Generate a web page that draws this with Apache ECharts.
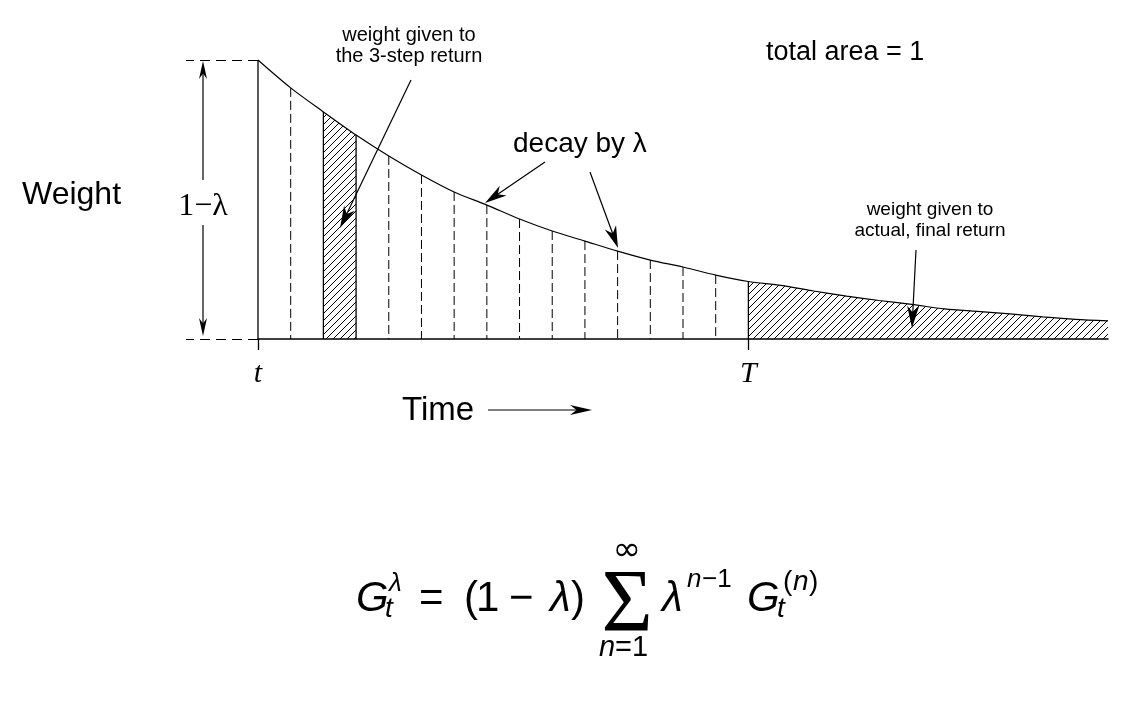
<!DOCTYPE html>
<html>
<head>
<meta charset="utf-8">
<script src="https://cdn.jsdelivr.net/npm/echarts@6.0.0/dist/echarts.min.js"></script>
<style>
  html, body { margin: 0; padding: 0; background: #fff; }
  #chart { width: 1122px; height: 702px; }
</style>
</head>
<body>
<div id="chart"></div>
<script>
// time steps after t (n = 0 is t itself, n = 15 is the terminal time T)
const steps = [0, 1, 2, 3, 4, 5, 6, 7, 8, 9, 10, 11, 12, 13, 14, 15, 16, 17, 18, 19, 20, 21, 22, 23, 24, 25, 26];
// weight curve (1 = height at t)
const weights = [1.000, 0.900, 0.814, 0.731, 0.656, 0.588, 0.527, 0.480, 0.430, 0.387, 0.351, 0.315, 0.283, 0.258, 0.229, 0.206,
  0.192, 0.172, 0.154, 0.138, 0.124, 0.108, 0.099, 0.090, 0.079, 0.070, 0.065];
const threeStep = [2, 3];      // interval of the 3-step return
const finalStep = 15;          // T
const tickSteps = [0, 15];
const tickLabels = ["t", "T"];

const FONT = "Liberation Sans";
const SERIF = "Liberation Serif";

// diagonal hatching used for both shaded regions
function hatch() {
  const c = document.createElement("canvas");
  c.width = 7; c.height = 7;
  const g = c.getContext("2d");
  g.strokeStyle = "#000";
  g.lineWidth = 1;
  g.beginPath();
  for (const o of [-7, 0, 7]) { g.moveTo(o, 7); g.lineTo(o + 7, 0); }
  g.stroke();
  return c;
}
const hatchFill = { image: hatch(), repeat: "repeat" };

function txt(text, x, base, size, o = {}) {
  const align = o.align || "left";
  return {
    type: "text", x: x, y: base - 0.32 * size, z: 20,
    style: {
      text: text, fontSize: size, fontFamily: o.family || FONT,
      fontStyle: o.italic ? "italic" : "normal", fill: "#000",
      align: align, textAlign: align, verticalAlign: "middle", textVerticalAlign: "middle",
    },
  };
}

function arrow(x1, y1, x2, y2, len = 20, w = 5) {
  const d = Math.hypot(x2 - x1, y2 - y1), ux = (x2 - x1) / d, uy = (y2 - y1) / d;
  const bx = x2 - ux * len, by = y2 - uy * len;
  return [
    { type: "line", z: 20, shape: { x1, y1, x2: x2 - ux * len * 0.5, y2: y2 - uy * len * 0.5 }, style: { stroke: "#000", lineWidth: 1.2 } },
    { type: "polygon", z: 20, shape: { points: [[x2, y2], [bx - uy * w, by + ux * w], [x2 - ux * len * 0.7, y2 - uy * len * 0.7], [bx + uy * w, by - ux * w]] }, style: { fill: "#000" } },
  ];
}

const graphics = [
  txt("Weight", 22, 205, 32),
  txt("1\u2212\u03bb", 203, 217, 32, { family: SERIF, align: "center" }),
  ...arrow(203, 180, 203, 61, 18, 4),
  ...arrow(203, 225, 203, 336, 18, 4),
  txt("Time", 402, 421, 33),
  ...arrow(488, 410, 592, 410, 22, 5),
  txt("weight given to", 409, 42, 20, { align: "center" }),
  txt("the 3-step return", 409, 63, 20, { align: "center" }),
  ...arrow(411, 80, 340, 228, 22, 6),
  txt("total area = 1", 766, 61, 27),
  txt("decay by \u03bb", 513, 153, 28),
  ...arrow(545, 162, 485, 203, 22, 6),
  ...arrow(590, 172, 618, 248, 22, 6),
  txt("weight given to", 930, 216, 19, { align: "center" }),
  txt("actual, final return", 930, 237, 19, { align: "center" }),
  ...arrow(916, 250, 912, 328, 22, 6),
  // G_t^lambda = (1 - lambda) sum_{n=1}^inf lambda^{n-1} G_t^{(n)}
  txt("G", 356, 613, 42, { italic: true }),
  txt("t", 385, 618, 28, { italic: true }),
  txt("\u03bb", 389, 592, 26, { italic: true }),
  txt("=", 419, 613, 42),
  txt("(", 464, 613, 42),
  txt("1", 476, 613, 42),
  txt("\u2212", 509, 613, 42),
  txt("\u03bb", 550, 613, 42, { italic: true }),
  txt(")", 571, 613, 42),
  txt("\u03a3", 627, 635, 88, { align: "center", family: SERIF }),
  txt("\u221e", 627, 562, 34, { align: "center", family: "DejaVu Sans" }),
  txt("n", 599, 657, 29, { italic: true }),
  txt("=1", 615, 657, 29),
  txt("\u03bb", 662, 613, 42, { italic: true }),
  txt("n", 687, 588, 26, { italic: true }),
  txt("\u22121", 702, 588, 26),
  txt("G", 747, 613, 42, { italic: true }),
  txt("t", 777, 618, 28, { italic: true }),
  txt("(", 783, 591, 28),
  txt("n", 793, 591, 28, { italic: true }),
  txt(")", 809, 591, 28),
];

const chart = echarts.init(document.getElementById("chart"), null, { renderer: "canvas" });

const option = {
  backgroundColor: "#fff",
  animation: false,
  grid: { left: 258, right: 14, top: 60, bottom: 363, outerBoundsMode: "none" },
  xAxis: {
    type: "value", min: 0, max: 26,
    axisLine: { show: true, lineStyle: { color: "#000", width: 1.5 } },
    axisTick: { show: true, customValues: tickSteps, length: 11, lineStyle: { color: "#000", width: 1.3 } },
    axisLabel: {
      show: true, customValues: tickSteps, margin: 20,
      formatter: (v) => { const i = tickSteps.indexOf(v); return i < 0 ? "" : tickLabels[i]; },
      fontFamily: SERIF, fontStyle: "italic", fontSize: 30, color: "#000",
    },
    splitLine: { show: false },
  },
  yAxis: {
    type: "value", min: 0, max: 1,
    axisLine: { show: false },
    axisTick: { show: true, customValues: [0, 1], length: 72, lineStyle: { color: "#000", width: 1.2, type: [10, 6] } },
    axisLabel: { show: false },
    splitLine: { show: false },
  },
  graphic: graphics,
  series: [
    {
      type: "line", name: "3-step", clip: false, z: 1,
      data: threeStep.map((s) => [s, weights[s]]),
      showSymbol: false, lineStyle: { width: 0 },
      areaStyle: { color: hatchFill, opacity: 1 },
    },
    {
      type: "line", name: "final", clip: false, z: 1,
      data: steps.filter((s) => s >= finalStep).map((s) => [s, weights[s]]),
      smooth: 0.3, showSymbol: false, lineStyle: { width: 0 },
      areaStyle: { color: hatchFill, opacity: 1 },
    },
    {
      type: "custom", name: "dividers", clip: false, z: 3,
      data: steps.filter((s) => s <= finalStep).map((s) => [s, weights[s]]),
      renderItem: (params, api) => {
        const s = api.value(0);
        const top = api.coord([s, api.value(1)]);
        const bot = api.coord([s, 0]);
        const solid = s === 0 || s === finalStep || threeStep.includes(s);
        return {
          type: "line",
          shape: { x1: top[0], y1: top[1], x2: bot[0], y2: bot[1] },
          style: { stroke: "#000", lineWidth: solid ? 1.3 : 1, lineDash: solid ? null : [9, 4] },
        };
      },
    },
    {
      type: "line", name: "weight", clip: false, z: 4,
      data: steps.map((s, i) => [s, weights[i]]),
      smooth: 0.3, showSymbol: false,
      lineStyle: { color: "#000", width: 1.2 },
    },
  ],
};

chart.setOption(option);
window.addEventListener("resize", () => chart.resize());
</script>
</body>
</html>
